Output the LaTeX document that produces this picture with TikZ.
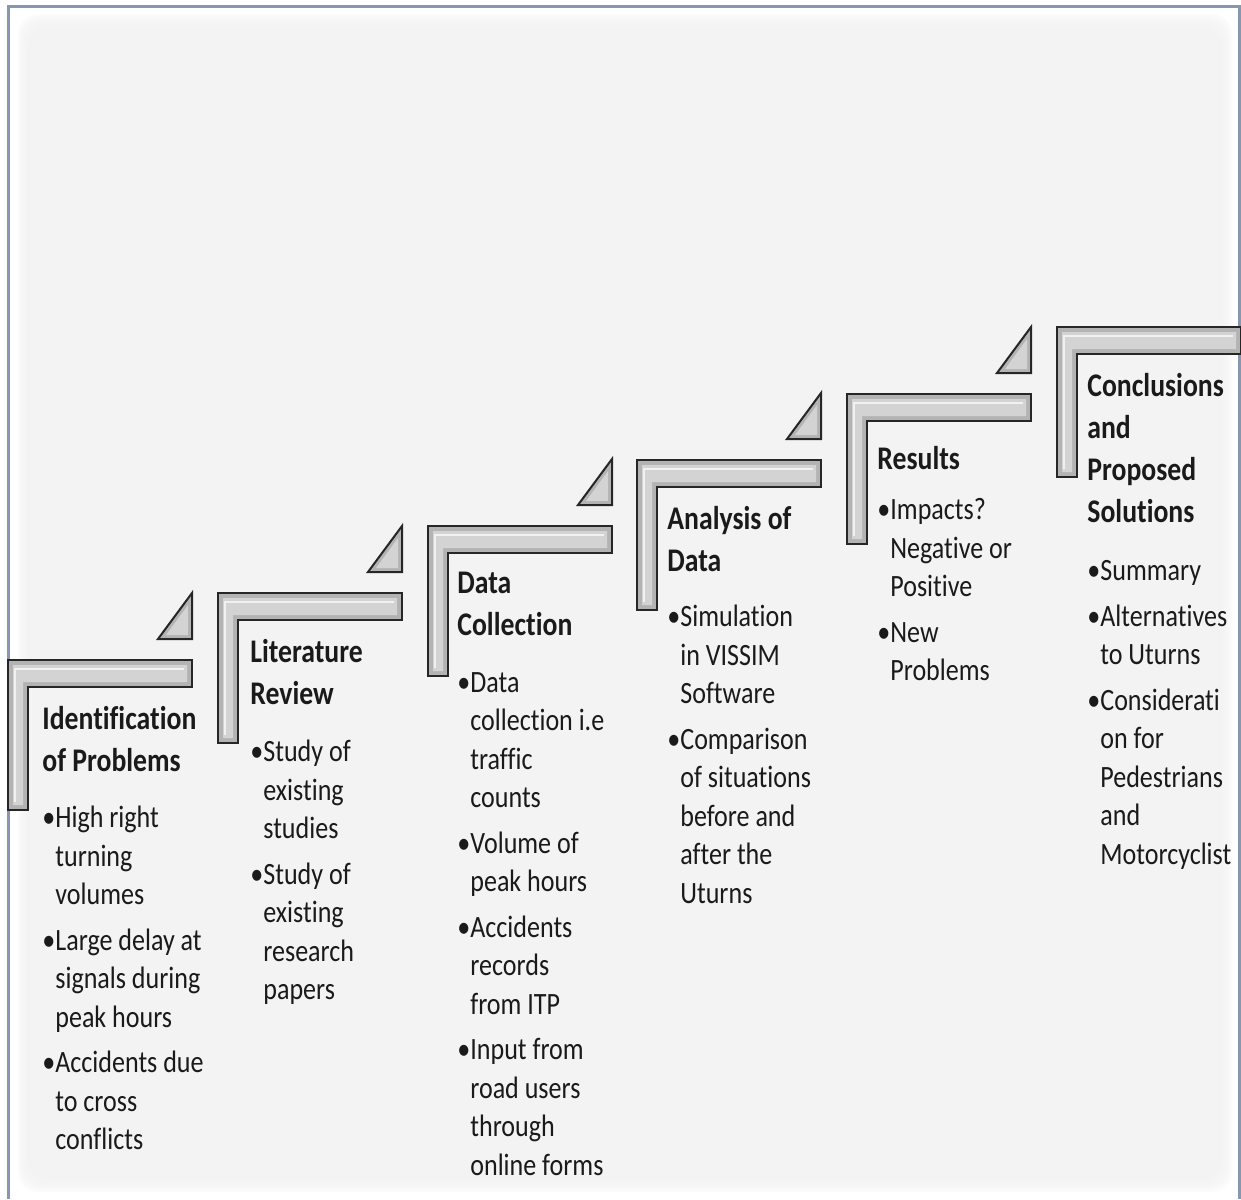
\documentclass[tikz,border=0pt]{standalone}
\usepackage{fontspec}
\setmainfont[FakeStretch=0.84, Ligatures=NoCommon]{Carlito}
\usepackage{xcolor}

\definecolor{frameblue}{HTML}{8797B0}
\definecolor{panelgray}{HTML}{F2F2F2}
\definecolor{stairgray}{HTML}{B3B3B3}
\definecolor{stairlight}{HTML}{D3D3D3}
\definecolor{inkgray}{HTML}{1A1A1A}

\tikzset{
  stairbody/.style={fill=stairgray, draw=black!85, line width=1pt, line join=miter},
  stairshine/.style={white, opacity=0.7, line width=0.6pt},
  title/.style={anchor=north west, inner sep=0pt, align=left, text=inkgray,
    font=\bfseries\fontsize{16.5}{21}\selectfont, execute at begin node=\strut},
  body/.style={anchor=north west, inner sep=0pt, align=left, text=inkgray,
    font=\fontsize{15.5}{19.25}\selectfont, execute at begin node=\strut}
}

% hanging indent after a bullet
\newcommand{\ind}{\phantom{\textbullet}}
% one stair: #1 = left x, #2 = top y (pixels)
\newcommand{\stair}[2]{%
  \draw[stairbody] (#1,#2) -- ++(184,0) -- ++(0,27) -- ++(-164,0) -- ++(0,123) -- ++(-20,0) -- cycle;
  \fill[stairlight] (#1+5,#2+5) -- ++(174,0) -- ++(0,17) -- ++(-164,0) -- ++(0,123) -- ++(-10,0) -- cycle;
  \draw[stairshine] (#1+7,#2+142) -- (#1+7,#2+9) -- (#1+176,#2+9);
}
% small triangle above the right end of a stair
\newcommand{\stairtip}[2]{%
  \draw[stairbody] (#1+184,#2-67) -- (#1+184,#2-21) -- (#1+150,#2-21) -- cycle;
  \fill[stairlight] (#1+180,#2-55) -- (#1+180,#2-25) -- (#1+158,#2-25) -- cycle;
}

\begin{document}
\begin{tikzpicture}[x=0.5pt, y=-0.5pt]
  \useasboundingbox (0,0) rectangle (1241,1199);

  % soft grey panel
  \foreach \k in {0,...,7}
    \fill[panelgray, opacity=0.32, rounded corners=10]
      (18+2*\k, 14+2.75*\k) rectangle (1232-2*\k, 1192-2.5*\k);

  % frame, open at the bottom
  \draw[frameblue, line width=1.5pt] (8.5,1199) -- (8.5,6.5) -- (1239.5,6.5) -- (1239.5,1199);

  % stairs
  \stair{8}{660}    \stairtip{8}{660}
  \stair{218}{593}  \stairtip{218}{593}
  \stair{428}{526}  \stairtip{428}{526}
  \stair{637}{460}  \stairtip{637}{460}
  \stair{847}{394}  \stairtip{847}{394}
  \stair{1057}{327}

  % identification
  \node[title] (idtitle) at (42,705.6) {Identification\\of Problems};
  \node[body] (idbody) at (42,806) {\textbullet High right\\ \ind turning\\ \ind volumes\\[3.5pt]
    \textbullet Large delay at\\ \ind signals during\\ \ind peak hours\\[3.5pt]
    \textbullet Accidents due\\ \ind to cross\\ \ind conflicts};

  % literature
  \node[title] (littitle) at (250,638.6) {Literature\\Review};
  \node[body] (litbody) at (250,740) {\textbullet Study of\\ \ind existing\\ \ind studies\\[3.5pt]
    \textbullet Study of\\ \ind existing\\ \ind research\\ \ind papers};

  % data collection
  \node[title] (datatitle) at (457,571.6) {Data\\Collection};
  \node[body] (databody) at (457,672) {\textbullet Data\\ \ind collection i.e\\ \ind traffic\\ \ind counts\\[3.5pt]
    \textbullet Volume of\\ \ind peak hours\\[3.5pt]
    \textbullet Accidents\\ \ind records\\ \ind from ITP\\[3.5pt]
    \textbullet Input from\\ \ind road users\\ \ind through\\ \ind online forms};

  % analysis
  \node[title] (antitle) at (667,505.6) {Analysis of\\Data};
  \node[body] (anbody) at (667,605) {\textbullet Simulation\\ \ind in VISSIM\\ \ind Software\\[3.5pt]
    \textbullet Comparison\\ \ind of situations\\ \ind before and\\ \ind after the\\ \ind Uturns};

  % results
  \node[title] (restitle) at (877,439.6) {Results};
  \node[body] (resbody) at (877,498) {\textbullet Impacts?\\ \ind Negative or\\ \ind Positive\\[3.5pt]
    \textbullet New\\ \ind Problems};

  % conclusions
  \node[title] (contitle) at (1087,372.6) {Conclusions\\and\\Proposed\\Solutions};
  \node[body] (conbody) at (1087,560) {\textbullet Summary\\[3.5pt]
    \textbullet Alternatives\\ \ind to Uturns\\[3.5pt]
    \textbullet Considerati\\ \ind on for\\ \ind Pedestrians\\ \ind and\\ \ind Motorcyclist};
\end{tikzpicture}
\end{document}
